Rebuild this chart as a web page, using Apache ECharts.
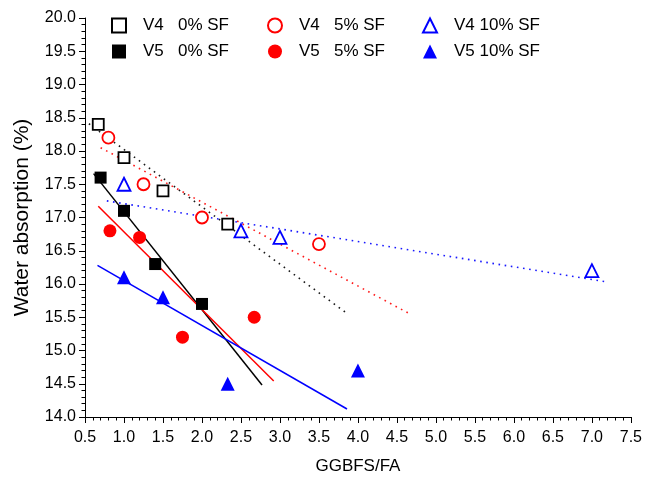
<!DOCTYPE html>
<html>
<head>
<meta charset="utf-8">
<script src="https://cdn.jsdelivr.net/npm/echarts@6/dist/echarts.min.js"></script>
<style>
  html, body { margin: 0; padding: 0; background: #fff; }
  #chart { width: 645px; height: 480px; }
</style>
</head>
<body>
<div id="chart"></div>
<script>
// Measured water absorption (%) against GGBFS/FA ratio
var v4sf0X = [0.67, 1.0, 1.5, 2.33];
var v4sf0Y = [18.4, 17.9, 17.4, 16.9];
var v5sf0X = [0.7, 1.0, 1.4, 2.0];
var v5sf0Y = [17.6, 17.1, 16.3, 15.7];
var v4sf5X = [0.8, 1.25, 2.0, 3.5];
var v4sf5Y = [18.2, 17.5, 17.0, 16.6];
var v5sf5X = [0.82, 1.2, 1.75, 2.67];
var v5sf5Y = [16.8, 16.7, 15.2, 15.5];
var v4sf10X = [1.0, 2.5, 3.0, 7.0];
var v4sf10Y = [17.5, 16.8, 16.7, 16.2];
var v5sf10X = [1.0, 1.5, 2.33, 4.0];
var v5sf10Y = [16.1, 15.8, 14.5, 14.7];

// Linear trend lines: start and end points [x, y]
var fitV4sf0 = [[0.55, 18.41], [3.88, 15.54]];
var fitV5sf0 = [[0.61, 17.66], [2.77, 14.48]];
var fitV4sf5 = [[0.70, 18.05], [4.65, 15.56]];
var fitV5sf5 = [[0.67, 17.17], [2.92, 14.54]];
var fitV4sf10 = [[0.78, 17.25], [7.20, 16.03]];
var fitV5sf10 = [[0.66, 16.28], [3.86, 14.12]];

var names = ['V4   0% SF', 'V5   0% SF', 'V4   5% SF', 'V5   5% SF', 'V4 10% SF', 'V5 10% SF'];

function pairs(xs, ys) {
  return xs.map(function (x, i) { return [x, ys[i]]; });
}

var FONT = 'Liberation Sans, Arial, sans-serif';
var BLACK = '#000000', RED = '#ff0000', BLUE = '#0000ff';

function scatter(name, xs, ys, symbol, size, color, filled) {
  return {
    name: name,
    type: 'scatter',
    symbol: symbol,
    symbolSize: size,
    z: 5,
    itemStyle: filled
      ? { color: color, borderWidth: 0, opacity: 1 }
      : { color: '#ffffff', borderColor: color, borderWidth: 1.8, opacity: 1 },
    emphasis: { disabled: true },
    data: pairs(xs, ys)
  };
}

function trend(points, color, dotted) {
  return {
    type: 'line',
    showSymbol: false,
    silent: true,
    z: 2,
    lineStyle: {
      color: color,
      width: dotted ? 1.6 : 1.5,
      type: dotted ? [1.6, 4.6] : 'solid',
      opacity: dotted ? 0.9 : 1
    },
    data: points
  };
}

function legendBlock(left, items) {
  return {
    orient: 'vertical',
    left: left,
    top: 12,
    itemGap: 9,
    itemWidth: 14,
    itemHeight: 14,
    textStyle: { fontFamily: FONT, fontSize: 17, color: '#000', padding: [0, 0, 0, 12] },
    selectedMode: false,
    data: items
  };
}

var option = {
  animation: false,
  backgroundColor: '#ffffff',
  grid: { left: 85, right: 14, top: 18, bottom: 62 },
  legend: [
    legendBlock(106, [names[0], names[1]]),
    legendBlock(262, [names[2], names[3]]),
    legendBlock(417, [names[4], names[5]])
  ],
  xAxis: {
    type: 'value',
    min: 0.5, max: 7.5, interval: 0.5,
    name: 'GGBFS/FA',
    nameLocation: 'middle',
    nameGap: 41,
    nameTextStyle: { fontFamily: FONT, fontSize: 17, color: '#000' },
    axisLine: { onZero: false, lineStyle: { color: '#000', width: 1 } },
    axisTick: { show: true, inside: false, length: 6, lineStyle: { color: '#000' } },
    minorTick: { show: true, splitNumber: 5, length: 3.5, lineStyle: { color: '#000' } },
    splitLine: { show: false },
    axisLabel: {
      margin: 13, fontFamily: FONT, fontSize: 16, color: '#000',
      formatter: function (v) { return v.toFixed(1); }
    }
  },
  yAxis: {
    type: 'value',
    min: 14, max: 20, interval: 0.5,
    name: 'Water absorption (%)',
    nameLocation: 'middle',
    nameGap: 52,
    nameTextStyle: { fontFamily: FONT, fontSize: 21, color: '#000' },
    axisLine: { show: true, onZero: false, lineStyle: { color: '#000', width: 1 } },
    axisTick: { show: true, inside: false, length: 6, lineStyle: { color: '#000' } },
    minorTick: { show: true, splitNumber: 5, length: 3.5, lineStyle: { color: '#000' } },
    splitLine: { show: false },
    axisLabel: {
      margin: 9, fontFamily: FONT, fontSize: 16, color: '#000',
      formatter: function (v) { return v.toFixed(1); }
    }
  },
  series: [
    trend(fitV4sf0, BLACK, true),
    trend(fitV5sf0, BLACK, false),
    trend(fitV4sf5, RED, true),
    trend(fitV5sf5, RED, false),
    trend(fitV4sf10, BLUE, true),
    trend(fitV5sf10, BLUE, false),
    scatter(names[0], v4sf0X, v4sf0Y, 'rect', 11, BLACK, false),
    scatter(names[1], v5sf0X, v5sf0Y, 'rect', 12, BLACK, true),
    scatter(names[2], v4sf5X, v4sf5Y, 'circle', 12, RED, false),
    scatter(names[3], v5sf5X, v5sf5Y, 'circle', 13, RED, true),
    scatter(names[4], v4sf10X, v4sf10Y, 'triangle', 13, BLUE, false),
    scatter(names[5], v5sf10X, v5sf10Y, 'triangle', 14, BLUE, true)
  ]
};

var chart = echarts.init(document.getElementById('chart'), null, { renderer: 'canvas' });
chart.setOption(option);
</script>
</body>
</html>
